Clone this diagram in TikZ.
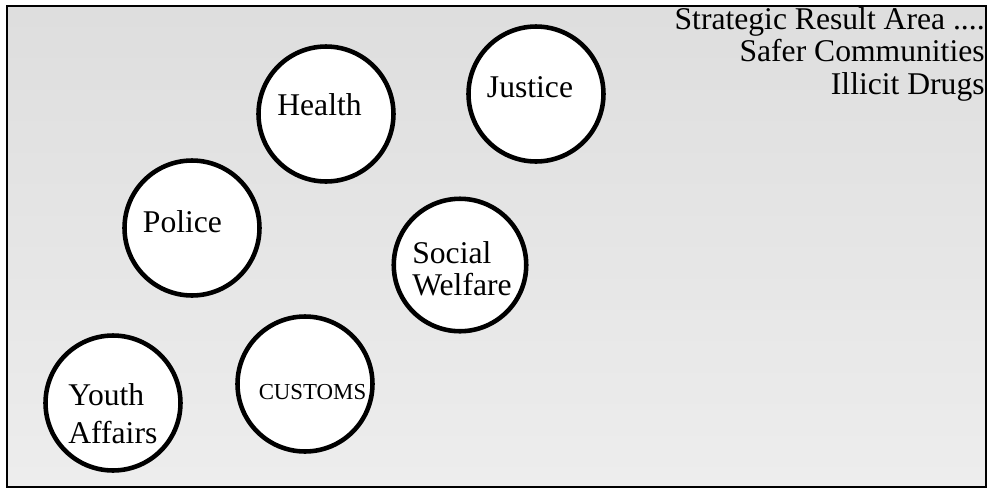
\documentclass[tikz,border=0pt]{standalone}
\usepackage{fontspec}
\setmainfont{Liberation Serif}

\begin{document}
\begin{tikzpicture}[x=0.02cm, y=-0.02cm,
    agency/.style={circle, draw=black, line width=2.6pt, fill=white,
      minimum size=2.7cm, inner sep=0pt},
    agname/.style={font=\fontsize{18}{18.2}\selectfont, inner sep=0pt},
    sra/.style={font=\fontsize{18}{18.4}\selectfont, inner sep=0pt,
      align=right, anchor=north east}]
  \useasboundingbox (0,0) rectangle (992,491);
  \draw[line width=1.1pt, top color=black!13, bottom color=black!7]
    (7,6) rectangle (986,487);

  \node[agency] (health)  at (326,114) {};
  \node[agency] (justice) at (536,94)  {};
  \node[agency] (police)  at (192,228) {};
  \node[agency, minimum size=2.65cm] (social) at (460,265) {};
  \node[agency] (youth)   at (113,403) {};
  \node[agency] (customs) at (305,384) {};

  \node[agname, anchor=base] (healthtxt)  at (319.5,115) {Health};
  \node[agname, anchor=base] (justicetxt) at (530,97)    {Justice};
  \node[agname, anchor=base] (policetxt)  at (182.5,232) {Police};
  \node[agname, align=left, anchor=north west] (socialtxt) at (412,241)
    {Social\\Welfare};
  \node[agname, font=\fontsize{18}{22}\selectfont, align=left,
    anchor=north west] (youthtxt) at (68,383) {Youth\\Affairs};
  \node[agname, font=\fontsize{13}{15}\selectfont, anchor=base]
    (customstxt) at (312.5,399) {CUSTOMS};

  \node[sra] (area) at (985,7.2)
    {Strategic Result Area ....\\Safer Communities\\Illicit Drugs};
\end{tikzpicture}
\end{document}
